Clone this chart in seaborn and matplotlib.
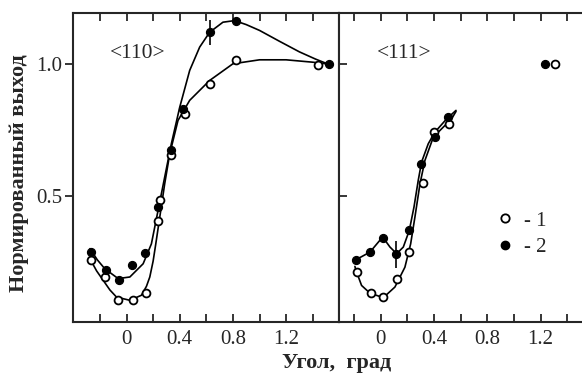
import matplotlib
matplotlib.use('Agg')
import matplotlib.pyplot as plt
from matplotlib.lines import Line2D
import seaborn as sns
import pandas as pd

# --- <110>: экспериментальные точки ---
x110_1 = [-0.27, -0.163, -0.063, 0.045, 0.145, 0.24, 0.25, 0.337, 0.437, 0.625, 0.825, 1.437]
y110_1 = [0.258, 0.195, 0.107, 0.109, 0.134, 0.405, 0.484, 0.654, 0.809, 0.925, 1.015, 0.997]
x110_2 = [-0.27, -0.158, -0.058, 0.038, 0.137, 0.237, 0.337, 0.425, 0.625, 0.825, 1.52]
y110_2 = [0.289, 0.223, 0.182, 0.241, 0.287, 0.461, 0.673, 0.83, 1.119, 1.161, 1.0]

# --- <110>: сглаживающие кривые ---
cx110_1 = [-0.275, -0.225, -0.175, -0.125, -0.075, 0.025, 0.112, 0.15, 0.175, 0.2, 0.22,
           0.25, 0.287, 0.325, 0.387, 0.475, 0.625, 0.8, 1.0, 1.2, 1.4, 1.5]
cy110_1 = [0.264, 0.218, 0.182, 0.146, 0.119, 0.107, 0.126, 0.16, 0.195, 0.255, 0.32,
           0.421, 0.547, 0.66, 0.786, 0.862, 0.937, 1.0, 1.015, 1.015, 1.006, 1.0]
cx110_2 = [-0.275, -0.22, -0.163, -0.063, 0.025, 0.125, 0.187, 0.237, 0.287, 0.337,
           0.4, 0.475, 0.55, 0.625, 0.725, 0.812, 0.9, 1.0, 1.15, 1.3, 1.42, 1.51]
cy110_2 = [0.302, 0.26, 0.226, 0.189, 0.195, 0.245, 0.32, 0.446, 0.572, 0.698,
           0.836, 0.975, 1.063, 1.119, 1.157, 1.163, 1.148, 1.126, 1.085, 1.045, 1.018, 1.0]

# --- <111>: экспериментальные точки ---
x111_1 = [-0.175, -0.075, 0.02, 0.12, 0.215, 0.32, 0.4, 0.515, 1.308]
y111_1 = [0.214, 0.134, 0.119, 0.189, 0.289, 0.549, 0.742, 0.774, 1.0]
x111_2 = [-0.185, -0.08, 0.015, 0.115, 0.21, 0.3, 0.407, 0.507, 1.232]
y111_2 = [0.261, 0.289, 0.343, 0.28, 0.371, 0.623, 0.723, 0.798, 1.0]

# --- <111>: сглаживающие кривые ---
cx111_1 = [-0.193, -0.185, -0.143, -0.08, 0.02, 0.107, 0.182, 0.225, 0.257, 0.295,
           0.332, 0.395, 0.47, 0.532, 0.565]
cy111_1 = [0.235, 0.22, 0.163, 0.134, 0.117, 0.157, 0.232, 0.32, 0.421, 0.547,
           0.635, 0.723, 0.761, 0.792, 0.82]
cx111_2 = [-0.193, -0.08, 0.015, 0.07, 0.12, 0.17, 0.215, 0.25, 0.282, 0.307,
           0.357, 0.407, 0.495, 0.565]
cy111_2 = [0.258, 0.289, 0.346, 0.308, 0.283, 0.308, 0.371, 0.459, 0.56, 0.629,
           0.698, 0.742, 0.792, 0.824]

# погрешности (x, y, ±dy)
err110 = (0.625, 1.119, 0.047)
err111 = (0.115, 0.28, 0.05)

xticks = [-0.2, 0.0, 0.2, 0.4, 0.6, 0.8, 1.0, 1.2, 1.4]
xticklabels = ['', '0', '', '0.4', '', '0.8', '', '1.2', '']
yticks = [0.5, 1.0]
yticklabels = ['0.5', '1.0']
legend_labels = ['- 1', '- 2']

sns.set_style('ticks')
plt.rcParams['font.family'] = ['Liberation Serif', 'DejaVu Serif']
plt.rcParams['axes.linewidth'] = 1.5

fig = plt.figure(figsize=(5.82, 3.74), dpi=100)
ax1 = fig.add_axes([0.126, 0.139, 0.457, 0.825])
ax2 = fig.add_axes([0.583, 0.139, 0.417, 0.825])

FS = 15
LFS = 16
MS = 32


def draw_panel(ax, cx1, cy1, cx2, cy2, px1, py1, px2, py2, err):
    c1 = pd.DataFrame({'x': cx1, 'y': cy1})
    c2 = pd.DataFrame({'x': cx2, 'y': cy2})
    sns.lineplot(data=c1, x='x', y='y', ax=ax, color='black', lw=1.2,
                 sort=False, estimator=None)
    sns.lineplot(data=c2, x='x', y='y', ax=ax, color='black', lw=1.2,
                 sort=False, estimator=None)
    ax.errorbar([err[0]], [err[1]], yerr=[err[2]], fmt='none', ecolor='black',
                elinewidth=1.2, capsize=0)
    sns.scatterplot(x=px1, y=py1, ax=ax, s=MS, facecolor='white',
                    edgecolor='black', linewidth=1.3, zorder=3)
    sns.scatterplot(x=px2, y=py2, ax=ax, s=MS, color='black',
                    edgecolor='black', linewidth=1.0, zorder=4)
    ax.set_ylim(0.025, 1.19)
    ax.set_xticks(xticks)
    ax.set_xticklabels(xticklabels, fontsize=FS)
    ax.set_xlabel('')
    ax.set_ylabel('')
    ax.tick_params(axis='x', direction='in', length=6, width=1.3,
                   top=True, pad=6)


draw_panel(ax1, cx110_1, cy110_1, cx110_2, cy110_2,
           x110_1, y110_1, x110_2, y110_2, err110)
draw_panel(ax2, cx111_1, cy111_1, cx111_2, cy111_2,
           x111_1, y111_1, x111_2, y111_2, err111)

ax1.set_xlim(-0.4, 1.6)
ax2.set_xlim(-0.31, 1.51)

ax1.set_yticks(yticks)
ax1.set_yticklabels(yticklabels, fontsize=FS)
ax1.tick_params(axis='y', direction='out', length=6, width=1.3, pad=2)
ax2.set_yticks(yticks)
ax2.set_yticklabels([])
ax2.tick_params(axis='y', direction='in', length=6, width=1.3)
ax2.spines['right'].set_visible(False)

ax1.text(0.087, 1.04, '<110>', fontsize=15.5, ha='center', va='center')
ax2.text(0.175, 1.04, '<111>', fontsize=15.5, ha='center', va='center')

handles = [
    Line2D([], [], ls='none', marker='o', ms=6, mfc='white', mec='black', mew=1.3),
    Line2D([], [], ls='none', marker='o', ms=6, mfc='black', mec='black'),
]
ax2.legend(handles, legend_labels, loc='upper left', bbox_to_anchor=(0.65, 0.36),
           frameon=False, fontsize=FS, handlelength=0.8, handletextpad=0.5,
           labelspacing=0.35, borderpad=0, borderaxespad=0)

fig.text(0.579, 0.03, 'Угол,  град', fontsize=LFS, fontweight='bold',
         ha='center', va='center')
fig.text(0.033, 0.537, 'Нормированный выход', fontsize=LFS, fontweight='bold',
         rotation=90, ha='center', va='center')

fig.savefig('out.png', dpi=100)
plt.close(fig)
